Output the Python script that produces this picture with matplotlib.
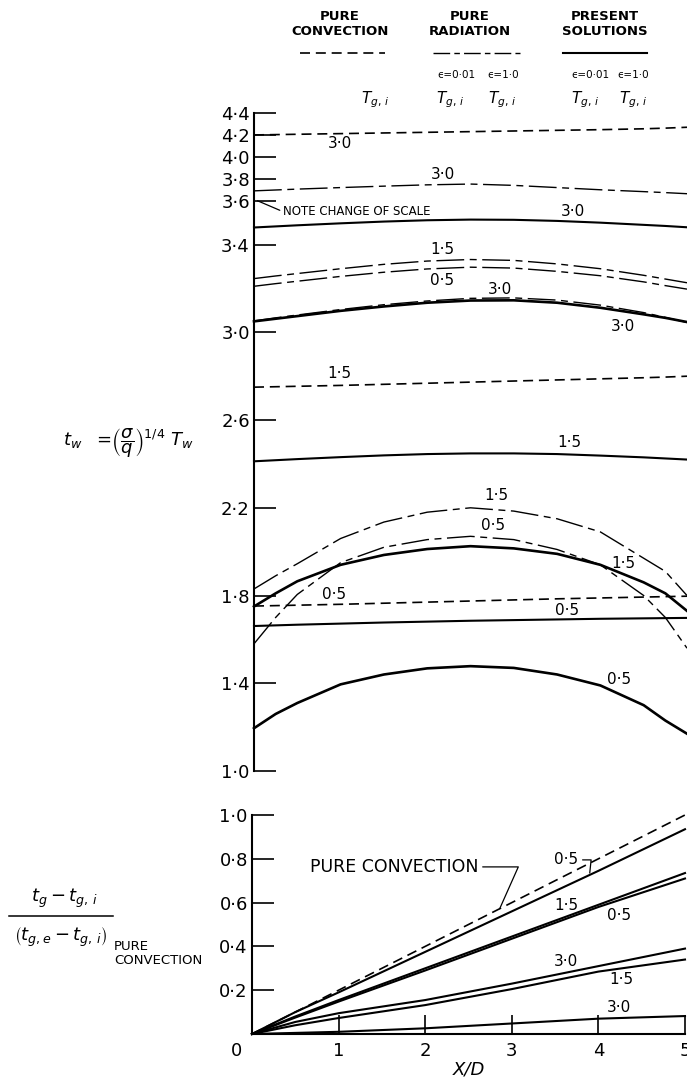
import numpy as np
import matplotlib.pyplot as plt
from matplotlib.lines import Line2D

# ---- upper panel: dimensionless wall temperature t_w vs X/D ----
x_top = [0, 0.25, 0.5, 1, 1.5, 2, 2.5, 3, 3.5, 4, 4.5, 4.75, 5]

# pure convection (dashed), Tg,i = 3.0, 1.5, 0.5
conv_30 = [4.20, 4.203, 4.206, 4.212, 4.218, 4.224, 4.23, 4.236, 4.242, 4.248, 4.256, 4.262, 4.27]
conv_15 = [2.75, 2.752, 2.754, 2.758, 2.763, 2.768, 2.773, 2.778, 2.783, 2.788, 2.793, 2.796, 2.80]
conv_05 = [1.752, 1.754, 1.756, 1.760, 1.765, 1.770, 1.775, 1.780, 1.785, 1.789, 1.793, 1.795, 1.797]

# pure radiation eps = 0.01 (long-short dash)
rad1_30 = [3.690, 3.698, 3.706, 3.720, 3.733, 3.745, 3.752, 3.740, 3.720, 3.700, 3.683, 3.674, 3.664]
rad1_15 = [3.245, 3.257, 3.268, 3.290, 3.310, 3.325, 3.332, 3.328, 3.312, 3.290, 3.260, 3.243, 3.226]
rad1_05 = [3.210, 3.222, 3.233, 3.255, 3.274, 3.289, 3.297, 3.293, 3.278, 3.258, 3.230, 3.213, 3.197]

# pure radiation eps = 1.0
rad2_30 = [3.052, 3.066, 3.079, 3.104, 3.126, 3.143, 3.155, 3.157, 3.147, 3.124, 3.090, 3.068, 3.045]
rad2_15 = [1.83, 1.89, 1.945, 2.06, 2.135, 2.18, 2.20, 2.185, 2.15, 2.09, 1.97, 1.91, 1.80]
rad2_05 = [1.58, 1.70, 1.805, 1.95, 2.02, 2.055, 2.07, 2.055, 2.01, 1.94, 1.80, 1.70, 1.56]

# present solutions eps = 0.01 (solid)
pres1_30 = [3.478, 3.483, 3.488, 3.497, 3.505, 3.511, 3.514, 3.513, 3.508, 3.500, 3.490, 3.485, 3.479]
pres1_15 = [2.412, 2.417, 2.422, 2.431, 2.439, 2.445, 2.448, 2.448, 2.445, 2.438, 2.430, 2.425, 2.420]
pres1_05 = [1.661, 1.664, 1.667, 1.672, 1.677, 1.681, 1.685, 1.688, 1.691, 1.694, 1.696, 1.697, 1.698]

# present solutions eps = 1.0 (solid, heavy)
pres2_30 = [3.050, 3.062, 3.074, 3.098, 3.118, 3.135, 3.145, 3.146, 3.135, 3.112, 3.082, 3.066, 3.047]
pres2_15 = [1.75, 1.81, 1.865, 1.94, 1.985, 2.012, 2.025, 2.015, 1.99, 1.94, 1.86, 1.81, 1.73]
pres2_05 = [1.195, 1.26, 1.31, 1.395, 1.44, 1.468, 1.478, 1.47, 1.44, 1.39, 1.30, 1.23, 1.17]

top_ticks = [1.0, 1.4, 1.8, 2.2, 2.6, 3.0, 3.4, 3.6, 3.8, 4.0, 4.2, 4.4]

# ---- lower panel: gas temperature ratio vs X/D ----
x_bot = [0, 0.5, 1, 2, 3, 4, 5]
g_conv = [0, 0.10, 0.20, 0.40, 0.60, 0.80, 1.00]
g_05a = [0, 0.10, 0.19, 0.375, 0.56, 0.745, 0.935]
g_15a = [0, 0.08, 0.155, 0.30, 0.445, 0.59, 0.735]
g_05b = [0, 0.075, 0.148, 0.29, 0.435, 0.58, 0.71]
g_30a = [0, 0.055, 0.095, 0.155, 0.23, 0.31, 0.39]
g_15b = [0, 0.04, 0.073, 0.132, 0.205, 0.285, 0.34]
g_30b = [0, 0.005, 0.01, 0.026, 0.048, 0.07, 0.082]
bot_yticks = [0.2, 0.4, 0.6, 0.8, 1.0]
bot_xticks = [1, 2, 3, 4, 5]

DASH = dict(color='black', lw=1.2, dashes=(6, 3.5))
RAD = dict(color='black', lw=1.0, dashes=(20, 4, 5, 4))
SOL = dict(color='black', lw=1.5)
HEAVY = dict(color='black', lw=1.9)


def dot(v):
    return f"{v:.1f}".replace('.', '\u00b7')


def fwd(y):
    y = np.asarray(y, float)
    return np.where(y <= 3.6, y, 3.6 + (y - 3.6) / 2)


def inv(t):
    t = np.asarray(t, float)
    return np.where(t <= 3.6, t, 3.6 + (t - 3.6) * 2)


W, H = 687, 1081
fig = plt.figure(figsize=(6.87, 10.81), dpi=100)


def fx(px):
    return px / W


def fy(py):
    return 1 - py / H


# upper axes
ax1 = fig.add_axes([fx(254), fy(771), 433 / W, (771 - 113) / H])
ax1.set_yscale('function', functions=(fwd, inv))
for y in [conv_30, conv_15, conv_05]:
    ax1.plot(x_top, y, clip_on=False, **DASH)
for y in [rad1_30, rad1_15, rad1_05, rad2_30, rad2_15, rad2_05]:
    ax1.plot(x_top, y, clip_on=False, **RAD)
for y in [pres1_30, pres1_15, pres1_05]:
    ax1.plot(x_top, y, clip_on=False, **SOL)
for y in [pres2_30, pres2_15, pres2_05]:
    ax1.plot(x_top, y, clip_on=False, **HEAVY)
ax1.set_xlim(0, 5)
ax1.set_ylim(1.0, 4.4)
for s in ['top', 'right', 'bottom']:
    ax1.spines[s].set_visible(False)
ax1.spines['left'].set_linewidth(1.5)
ax1.set_xticks([])
ax1.set_yticks(top_ticks)
ax1.set_yticklabels([dot(v) for v in top_ticks])
ax1.yaxis.set_minor_locator(plt.NullLocator())
ax1.tick_params(axis='y', direction='in', length=16, width=1.2, labelsize=13, pad=3)

top_labels = [
    ("3·0", 0.99, 4.118), ("3·0", 2.18, 3.836), ("3·0", 3.68, 3.551),
    ("1·5", 2.18, 3.378), ("0·5", 2.17, 3.237), ("3·0", 2.84, 3.196),
    ("3·0", 4.26, 3.027), ("1·5", 0.99, 2.813), ("1·5", 3.64, 2.499),
    ("1·5", 2.80, 2.257), ("0·5", 2.76, 2.121), ("1·5", 4.26, 1.948),
    ("0·5", 0.93, 1.806), ("0·5", 3.61, 1.733), ("0·5", 4.22, 1.415),
]
for t, x, y in top_labels:
    ax1.text(x, y, t, fontsize=11, ha='center', va='center')

ax1.annotate("NOTE CHANGE OF SCALE", xy=(0.04, 3.6), xytext=(0.33, 3.551),
             fontsize=8.5, ha='left', va='center',
             arrowprops=dict(arrowstyle='-', lw=0.9, color='black',
                             shrinkA=0, shrinkB=0, relpos=(0, 0.5)))

fig.text(fx(128), fy(443), r"$t_w\ \ =\!\left(\dfrac{\sigma}{q}\right)^{1/4}\ T_w$",
         fontsize=13, ha='center', va='center')

# header / key
heads = [("PURE\nCONVECTION", 340), ("PURE\nRADIATION", 470), ("PRESENT\nSOLUTIONS", 605)]
for t, px in heads:
    fig.text(fx(px), fy(24), t, fontsize=9.5, ha='center', va='center',
             fontweight='bold', linespacing=1.25)
fig.add_artist(Line2D([fx(300), fx(385)], [fy(53), fy(53)], **DASH))
fig.add_artist(Line2D([fx(433), fx(520)], [fy(53), fy(53)], color='black', lw=1.0,
                      dashes=(12, 3, 4, 3)))
fig.add_artist(Line2D([fx(563), fx(647)], [fy(53), fy(53)], **SOL))
for t, px in [("ϵ=0·01", 456), ("ϵ=1·0", 503), ("ϵ=0·01", 590), ("ϵ=1·0", 633)]:
    fig.text(fx(px), fy(75), t, fontsize=7.5, ha='center', va='center')
for px in [375, 450, 502, 585, 633]:
    fig.text(fx(px), fy(100), r"$T_{g,\,i}$", fontsize=11, ha='center', va='center')

# lower axes
ax2 = fig.add_axes([fx(252), fy(1034), 433 / W, (1034 - 815) / H])
ax2.plot(x_bot, g_conv, clip_on=False, **DASH)
for y in [g_05a, g_15a, g_05b, g_30a, g_15b, g_30b]:
    ax2.plot(x_bot, y, clip_on=False, **SOL)
ax2.set_xlim(0, 5)
ax2.set_ylim(0, 1.0)
for s in ['top', 'right']:
    ax2.spines[s].set_visible(False)
for s in ['left', 'bottom']:
    ax2.spines[s].set_linewidth(1.5)
ax2.set_yticks(bot_yticks)
ax2.set_yticklabels([dot(v) for v in bot_yticks])
ax2.set_xticks(bot_xticks)
ax2.set_xticklabels([str(v) for v in bot_xticks])
ax2.tick_params(axis='y', direction='in', length=16, width=1.2, labelsize=13, pad=3)
ax2.tick_params(axis='x', direction='in', length=14, width=1.2, labelsize=13, pad=6)
ax2.annotate("0", xy=(0, 0), xytext=(-11, -12), textcoords='offset points',
             fontsize=13, ha='center', va='center')
ax2.set_xlabel("X/D", fontsize=13, style='italic', labelpad=0)

ax2.annotate("PURE CONVECTION", xy=(2.86, 0.572), xytext=(0.67, 0.763),
             fontsize=12.5, ha='left', va='center',
             arrowprops=dict(arrowstyle='-', lw=0.9, color='black', shrinkA=1, shrinkB=0,
                             relpos=(1, 0.5), connectionstyle='angle,angleA=0,angleB=66,rad=0'))
ax2.annotate("0·5", xy=(3.9, 0.735), xytext=(3.63, 0.795),
             fontsize=11, ha='center', va='center',
             arrowprops=dict(arrowstyle='-', lw=0.9, color='black', shrinkA=1, shrinkB=0,
                             relpos=(1, 0.5), connectionstyle='angle,angleA=0,angleB=84,rad=0'))
bot_labels = [("1·5", 3.63, 0.589), ("0·5", 4.24, 0.539), ("3·0", 3.63, 0.329),
              ("1·5", 4.27, 0.247), ("3·0", 4.24, 0.119)]
for t, x, y in bot_labels:
    ax2.text(x, y, t, fontsize=11, ha='center', va='center')

fig.text(fx(64), fy(898), r"$t_g - t_{g,\,i}$", fontsize=13, ha='center', va='center')
fig.add_artist(Line2D([fx(9), fx(113)], [fy(916), fy(916)], color='black', lw=1.1))
fig.text(fx(61), fy(937), r"$\left(t_{g,e} - t_{g,\,i}\right)$", fontsize=13,
         ha='center', va='center')
fig.text(fx(114), fy(953), "PURE\nCONVECTION", fontsize=9.5, ha='left', va='center',
         linespacing=1.1)

fig.savefig("out.png", dpi=100)
